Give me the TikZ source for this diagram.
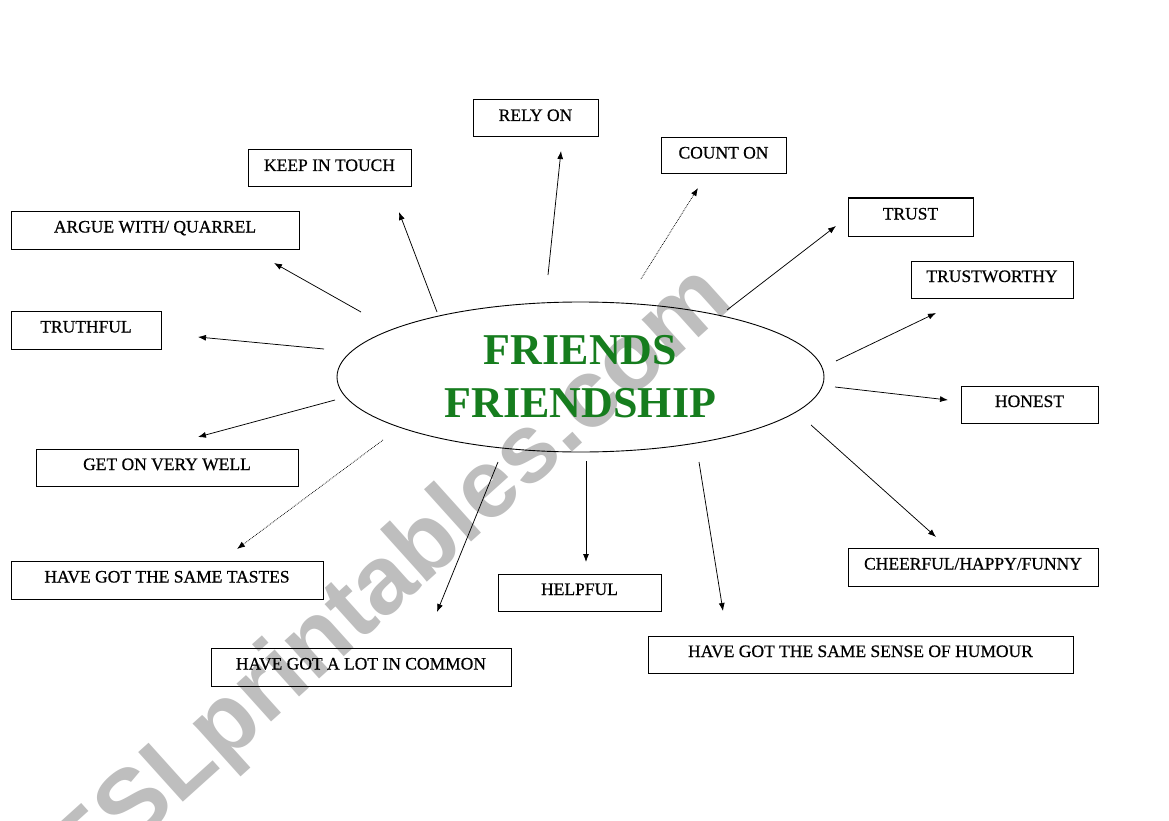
\documentclass[tikz,border=0pt]{standalone}
\usepackage{fontspec}
\setmainfont{Liberation Serif}
\newfontfamily\lblfont[FakeBold=0.6]{Liberation Serif}
\newfontfamily\wmfont{Liberation Sans}
\usetikzlibrary{shapes.geometric,arrows.meta}
\definecolor{titlegreen}{RGB}{22,125,30}
\definecolor{wmgray}{RGB}{190,190,190}
\newcommand\mybox[6]{\node[box,minimum width=#4pt,minimum height=#5pt] (#1) at (#2,#3) {#6};}
\tikzset{
  box/.style={draw,line width=1pt,inner sep=0pt,font=\lblfont\fontsize{17.5}{20}\selectfont,
    text height=11.5pt,text depth=6.5pt},
  arr/.style={line width=0.75pt,-{Latex[length=8pt,width=6pt]}},
  dotarr/.style={arr,densely dotted},
}
\begin{document}
\begin{tikzpicture}[x=1pt,y=-1pt]
\useasboundingbox (0,0) rectangle (1169,821);
\fill[white] (0,0) rectangle (1169,821);
% watermark
\node[text=wmgray,font=\wmfont\bfseries\fontsize{97}{97}\selectfont,rotate=42,inner sep=0pt] (wm) at (392,580) {ESLprintables.com};
% centre
\node[ellipse,draw,line width=0.9pt,minimum width=487pt,minimum height=150pt,inner sep=0pt,
  align=center,text=titlegreen,font=\bfseries\fontsize{44}{53}\selectfont] (center) at (580.5,377) {FRIENDS\\FRIENDSHIP};
% boxes
\mybox{rely}{535.5}{118.5}{125}{37}{RELY ON}
\mybox{count}{723.5}{156}{125}{36}{COUNT ON}
\mybox{keep}{329.5}{168.5}{163}{37}{KEEP IN TOUCH}
\mybox{trust}{910.5}{217}{125}{38}{TRUST}
\mybox{argue}{155}{230}{288}{38}{ARGUE WITH/ QUARREL}
\mybox{trustworthy}{992}{279.5}{162}{37}{TRUSTWORTHY}
\mybox{truthful}{86}{330}{150}{38}{TRUTHFUL}
\mybox{honest}{1029.5}{404.5}{137}{37}{HONEST}
\mybox{geton}{167}{467.5}{262}{37}{GET ON VERY WELL}
\mybox{cheerful}{973}{567}{250}{38}{CHEERFUL/HAPPY/FUNNY}
\mybox{tastes}{167}{580}{312}{38}{HAVE GOT THE SAME TASTES}
\mybox{helpful}{579.5}{592.5}{163}{37}{HELPFUL}
\mybox{humour}{860.5}{654.5}{425}{37}{HAVE GOT THE SAME SENSE OF HUMOUR}
\mybox{common}{361}{667}{300}{38}{HAVE GOT A LOT IN COMMON}
% connector ends
\coordinate (s1) at (437,312);  \coordinate (e1) at (399,212);
\coordinate (s2) at (548,275);  \coordinate (e2) at (561,151);
\coordinate (s3) at (641,279);  \coordinate (e3) at (698,188);
\coordinate (s4) at (727,310);  \coordinate (e4) at (836,226);
\coordinate (s5) at (361,312);  \coordinate (e5) at (274,263);
\coordinate (s6) at (324,349);  \coordinate (e6) at (198,337);
\coordinate (s7) at (836,361);  \coordinate (e7) at (936,313);
\coordinate (s8) at (835,387);  \coordinate (e8) at (948,400);
\coordinate (s9) at (335,400);  \coordinate (e9) at (198,437);
\coordinate (s10) at (811,425); \coordinate (e10) at (936,537);
\coordinate (s11) at (383,440); \coordinate (e11) at (237,549);
\coordinate (s12) at (498,462); \coordinate (e12) at (437,612);
\coordinate (s13) at (586,461); \coordinate (e13) at (586,562);
\coordinate (s14) at (699,462); \coordinate (e14) at (723,611);
\draw[arr] (s1) -- (e1);
\draw[arr] (s2) -- (e2);
\draw[dotarr] (s3) -- (e3);
\draw[arr] (s4) -- (e4);
\draw[arr] (s5) -- (e5);
\draw[arr] (s6) -- (e6);
\draw[arr] (s7) -- (e7);
\draw[arr] (s8) -- (e8);
\draw[arr] (s9) -- (e9);
\draw[arr] (s10) -- (e10);
\draw[dotarr] (s11) -- (e11);
\draw[arr] (s12) -- (e12);
\draw[arr] (s13) -- (e13);
\draw[arr] (s14) -- (e14);
\end{tikzpicture}
\end{document}
